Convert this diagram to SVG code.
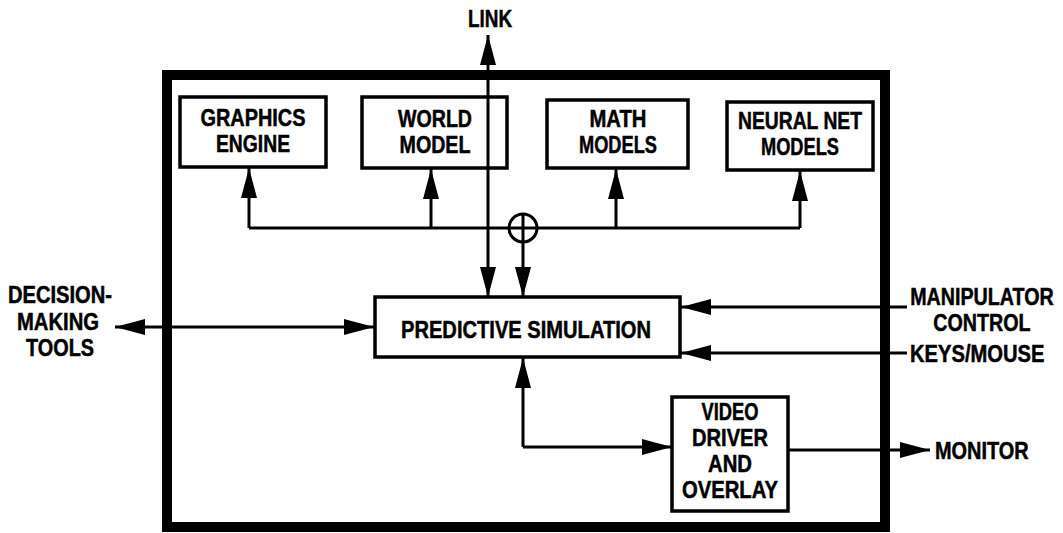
<svg xmlns="http://www.w3.org/2000/svg" width="1063" height="533" viewBox="0 0 1063 533">
  <style>
    text { font-family: "Liberation Sans", Arial, sans-serif; font-weight: bold; font-size: 24px; fill: #000; stroke: #000; stroke-width: 0.5; }
    .c { text-anchor: middle; }
    .box { fill: #fff; stroke: #000; stroke-width: 3.5; }
    .frame { fill: none; stroke: #000; stroke-width: 10; }
    .wire { fill: none; stroke: #000; stroke-width: 3; }
    .arr { marker-end: url(#head); }
    .arr2 { marker-start: url(#head); marker-end: url(#head); }
  </style>
  <defs>
    <marker id="head" markerUnits="userSpaceOnUse" markerWidth="32" markerHeight="18" refX="30" refY="8" orient="auto-start-reverse" viewBox="0 0 32 18">
      <path d="M0,0 L30,8 L0,16 Z" fill="#000"/>
    </marker>
  </defs>

  <rect width="1063" height="533" fill="#fff"/>

  <!-- workstation enclosure -->
  <rect class="frame" x="167" y="75" width="718" height="452"/>

  <g id="graphics-engine">
    <rect class="box" x="180" y="97" width="146" height="70"/>
    <text class="c" x="253" y="126" textLength="105" lengthAdjust="spacingAndGlyphs">GRAPHICS</text>
    <text class="c" x="253" y="152" textLength="74" lengthAdjust="spacingAndGlyphs">ENGINE</text>
  </g>

  <g id="world-model">
    <rect class="box" x="362" y="97" width="145" height="71"/>
    <text class="c" x="435" y="127" textLength="74" lengthAdjust="spacingAndGlyphs">WORLD</text>
    <text class="c" x="435" y="153" textLength="71" lengthAdjust="spacingAndGlyphs">MODEL</text>
  </g>

  <g id="math-models">
    <rect class="box" x="547" y="100" width="141" height="68"/>
    <text class="c" x="618" y="127" textLength="57" lengthAdjust="spacingAndGlyphs">MATH</text>
    <text class="c" x="618" y="153" textLength="78" lengthAdjust="spacingAndGlyphs">MODELS</text>
  </g>

  <g id="neural-net-models">
    <rect class="box" x="727" y="102" width="146" height="68"/>
    <text class="c" x="800" y="129" textLength="124" lengthAdjust="spacingAndGlyphs">NEURAL NET</text>
    <text class="c" x="800" y="155" textLength="78" lengthAdjust="spacingAndGlyphs">MODELS</text>
  </g>

  <g id="predictive-simulation">
    <rect class="box" x="375" y="297" width="305" height="60"/>
    <text class="c" x="526" y="338" textLength="250" lengthAdjust="spacingAndGlyphs">PREDICTIVE SIMULATION</text>
  </g>

  <g id="video-driver">
    <rect class="box" x="672" y="397" width="116" height="114"/>
    <text class="c" x="730" y="420" textLength="57" lengthAdjust="spacingAndGlyphs">VIDEO</text>
    <text class="c" x="730" y="446" textLength="76" lengthAdjust="spacingAndGlyphs">DRIVER</text>
    <text class="c" x="730" y="472" textLength="44" lengthAdjust="spacingAndGlyphs">AND</text>
    <text class="c" x="730" y="498" textLength="96" lengthAdjust="spacingAndGlyphs">OVERLAY</text>
  </g>

  <g id="link">
    <text class="c" x="490" y="27" textLength="44" lengthAdjust="spacingAndGlyphs">LINK</text>
  </g>

  <g id="decision-making-tools">
    <text class="c" x="60" y="303" textLength="104" lengthAdjust="spacingAndGlyphs">DECISION-</text>
    <text class="c" x="58" y="330" textLength="82" lengthAdjust="spacingAndGlyphs">MAKING</text>
    <text class="c" x="60" y="356" textLength="68" lengthAdjust="spacingAndGlyphs">TOOLS</text>
  </g>

  <!-- right-hand labels: condensed by a horizontal scale so they stay inside the page -->
  <g id="manipulator-control">
    <text class="c" transform="translate(982 305) scale(0.82 1)">MANIPULATOR</text>
    <text class="c" transform="translate(982 331) scale(0.82 1)">CONTROL</text>
  </g>

  <g id="keys-mouse">
    <text transform="translate(910 362) scale(0.84 1)">KEYS/MOUSE</text>
  </g>

  <g id="monitor">
    <text transform="translate(935 459) scale(0.83 1)">MONITOR</text>
  </g>

  <!-- connectors (drawn last so the link line shows across the world-model box) -->
  <g id="connectors">
    <!-- model bus -->
    <path class="wire" d="M249,228 H800"/>
    <path class="wire arr" d="M249,228 V168"/>
    <path class="wire arr" d="M431,228 V169"/>
    <path class="wire arr" d="M616,228 V169"/>
    <path class="wire arr" d="M800,228 V171"/>
    <!-- summing junction -->
    <circle cx="523" cy="228" r="14" fill="#fff" stroke="#000" stroke-width="3"/>
    <path class="wire" d="M509,228 H537 M523,214 V242"/>
    <path class="wire arr" d="M523,242 V297"/>
    <!-- external link -->
    <path class="wire arr2" d="M488,297 V35"/>
    <!-- decision-making tools -->
    <path class="wire arr2" d="M115,327 H374"/>
    <!-- operator inputs -->
    <path class="wire arr" d="M907,307 H681"/>
    <path class="wire arr" d="M907,353 H681"/>
    <!-- simulation to video driver -->
    <path class="wire arr" d="M523,447 V358"/>
    <path class="wire arr" d="M523,447 H672"/>
    <!-- monitor output -->
    <path class="wire arr" d="M788,450 H930"/>
  </g>
</svg>
